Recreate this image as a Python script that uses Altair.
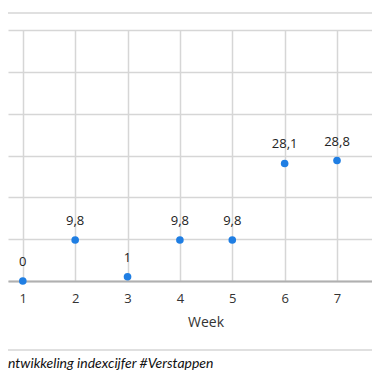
import altair as alt
import pandas as pd

weeks = [1, 2, 3, 4, 5, 6, 7]
values = [0, 9.8, 1, 9.8, 9.8, 28.1, 28.8]
labels = ["0", "9,8", "1", "9,8", "9,8", "28,1", "28,8"]
y_ticks = [0, 10, 20, 30, 40, 50, 60]
x_title = "Week"
caption = "ntwikkeling indexcijfer #Verstappen"

df = pd.DataFrame({"week": weeks, "value": values, "label": labels})

FONT = "Open Sans"
W, H = 364, 251

x = alt.X("week:Q",
          scale=alt.Scale(domain=[0.7174, 7.668], nice=False, zero=False),
          axis=alt.Axis(values=weeks, format="d", grid=True, gridColor="#d6d6d6", gridWidth=1.5,
                        ticks=False, domain=True, domainColor="#b0b0b0", domainWidth=2,
                        labelPadding=11, labelFontSize=13, labelColor="#333333",
                        labelFont=FONT, title=None))
y = alt.Y("value:Q",
          scale=alt.Scale(domain=[0, 60], nice=False),
          axis=alt.Axis(values=y_ticks, grid=True, gridColor="#d6d6d6", gridWidth=1.5,
                        ticks=False, domain=False, labels=False, title=None))

base = alt.Chart(df)
pts = base.mark_circle(size=58, color="#1f7ee3", opacity=1).encode(x=x, y=y)
txt = base.mark_text(dy=-19, fontSize=13, font=FONT, color="#222222",
                     baseline="middle").encode(x="week:Q", y="value:Q", text="label:N")

one = alt.Data(values=[{"a": 1}])
top_rule = alt.Chart(one).mark_rule(color="#d6d6d6", strokeWidth=1.5).encode(
    y=alt.value(-17), x=alt.value(0), x2=alt.value(W))
bot_rule = alt.Chart(one).mark_rule(color="#d6d6d6", strokeWidth=1.5).encode(
    y=alt.value(320), x=alt.value(0), x2=alt.value(W))
title_txt = alt.Chart(one).mark_text(fontSize=14, font=FONT, color="#333333",
                                     baseline="middle", align="center").encode(
    x=alt.value(198), y=alt.value(293), text=alt.value(x_title))
cap_txt = alt.Chart(one).mark_text(fontSize=14, font="Lato", fontStyle="italic",
                                   color="#111111", baseline="middle", align="left").encode(
    x=alt.value(0), y=alt.value(334), text=alt.value(caption))

chart = alt.layer(top_rule, bot_rule, pts, txt, title_txt, cap_txt).properties(
    width=W, height=H,
    autosize=alt.AutoSizeParams(type="none"),
    padding={"left": 0, "top": 22, "right": 0, "bottom": 91},
    background="white",
).configure_view(stroke=None)

chart.save("out.html", embed_options={"renderer": "svg", "actions": False})
